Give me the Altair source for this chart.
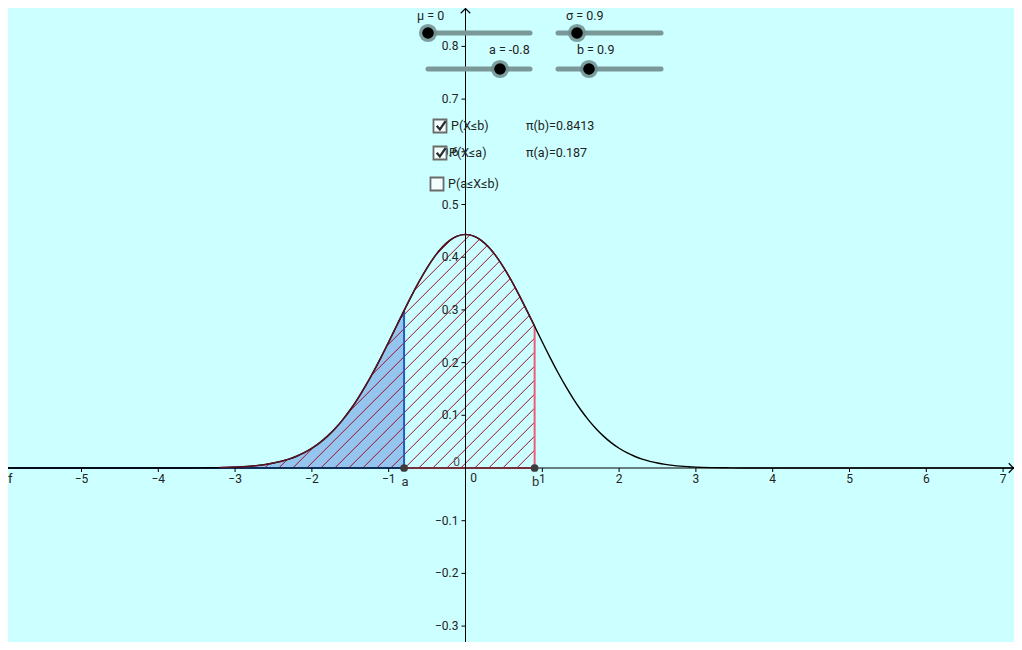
import altair as alt
import numpy as np
import pandas as pd

# ---- values ----
mu = 0
sigma = 0.9
a_val = -0.8
b_val = 0.9
prob_b = "0.8413"
prob_a = "0.187"

curve_x = [-6.0, -4.0, -3.6, -3.4, -3.2,
           -3.0, -2.9, -2.8, -2.7, -2.6, -2.5, -2.4, -2.3, -2.2, -2.1,
           -2.0, -1.9, -1.8, -1.7, -1.6, -1.5, -1.4, -1.3, -1.2, -1.1,
           -1.0, -0.9, -0.8, -0.7, -0.6, -0.5, -0.4, -0.3, -0.2, -0.1,
           0.0,
           0.1, 0.2, 0.3, 0.4, 0.5, 0.6, 0.7, 0.8, 0.9, 1.0,
           1.1, 1.2, 1.3, 1.4, 1.5, 1.6, 1.7, 1.8, 1.9, 2.0,
           2.1, 2.2, 2.3, 2.4, 2.5, 2.6, 2.7, 2.8, 2.9, 3.0,
           3.2, 3.4, 3.6, 4.0, 7.2]
curve_y = [0.0, 0.0, 0.0001, 0.0004, 0.0008,
           0.0017, 0.0025, 0.0035, 0.0049, 0.0068, 0.0094, 0.0127, 0.0169, 0.0223, 0.0291,
           0.0375, 0.0477, 0.0600, 0.0745, 0.0913, 0.1105, 0.1322, 0.1562, 0.1822, 0.2100,
           0.2391, 0.2689, 0.2986, 0.3276, 0.3549, 0.3799, 0.4016, 0.4193, 0.4325, 0.4405,
           0.4433,
           0.4405, 0.4325, 0.4193, 0.4016, 0.3799, 0.3549, 0.3276, 0.2986, 0.2689, 0.2391,
           0.2100, 0.1822, 0.1562, 0.1322, 0.1105, 0.0913, 0.0745, 0.0600, 0.0477, 0.0375,
           0.0291, 0.0223, 0.0169, 0.0127, 0.0094, 0.0068, 0.0049, 0.0035, 0.0025, 0.0017,
           0.0008, 0.0004, 0.0001, 0.0, 0.0]

x_ticks = [-5, -4, -3, -2, -1, 1, 2, 3, 4, 5, 6, 7]
x_tick_labels = ["\u22125", "\u22124", "\u22123", "\u22122", "\u22121", "1", "2", "3", "4", "5", "6", "7"]
y_ticks = [-0.3, -0.2, -0.1, 0.1, 0.2, 0.3, 0.4, 0.5, 0.6, 0.7, 0.8]
y_tick_labels = ["\u22120.3", "\u22120.2", "\u22120.1", "0.1", "0.2", "0.3", "0.4", "0.5", "0.6", "0.7", "0.8"]

# ---- view geometry ----
W, H = 1006, 634
PX_X = 76.8     # pixels per x unit
PX_Y = 527.0    # pixels per y unit
XMIN = (8 - 465.5) / PX_X
XMAX = XMIN + W / PX_X
YMAX = (468 - 8) / PX_Y
YMIN = YMAX - H / PX_Y

xs = alt.Scale(domain=[XMIN, XMAX], nice=False, zero=False)
ys = alt.Scale(domain=[YMIN, YMAX], nice=False, zero=False)
FONT = "Roboto"

curve = pd.DataFrame({"x": curve_x, "y": curve_y})

def X(f="x"):
    return alt.X(f"{f}:Q", scale=xs, axis=None)

def Y(f="y"):
    return alt.Y(f"{f}:Q", scale=ys, axis=None)

# blue area P(X<=a)
blue_area = alt.Chart(curve).transform_filter(alt.datum.x <= a_val).mark_area(
    color="#93c5ee", opacity=1, clip=True
).encode(x=X(), y=Y(), y2=alt.datum(0))

# hatching of P(X<=b): 45 degree lines clipped to the region under the curve
k = PX_X / PX_Y
spacing = 14 / PX_X
grid = np.linspace(XMIN, b_val, 9000)
fg = np.interp(grid, curve_x, curve_y)
segs = []
for c in np.arange(b_val - 0.05, XMIN - 0.5, -spacing):
    ly = k * (grid - c)
    inside = (grid >= c) & (ly <= fg)
    d = np.diff(np.concatenate(([0], inside.astype(int), [0])))
    starts = np.flatnonzero(d == 1)
    ends = np.flatnonzero(d == -1) - 1
    for s, e in zip(starts, ends):
        if e - s < 3:
            continue
        segs.append({"x": grid[s], "y": ly[s], "x2": grid[e], "y2": ly[e]})
hatch_df = pd.DataFrame(segs)
hatch = alt.Chart(hatch_df).mark_rule(color="#9e0f2c", strokeWidth=1, opacity=1).encode(
    x=X(), y=Y(), x2="x2:Q", y2="y2:Q"
)

fa = curve_y[curve_x.index(a_val)]
fb = curve_y[curve_x.index(b_val)]
edges = pd.DataFrame({
    "x": [XMIN, a_val, a_val, b_val],
    "x2": [a_val, b_val, a_val, b_val],
    "y": [0, 0, 0, 0],
    "y2": [0, 0, fa, fb],
    "kind": ["blue", "red", "blue", "red"],
})
edge_rules = alt.Chart(edges).mark_rule(strokeWidth=2).encode(
    x=X(), y=Y(), x2="x2:Q", y2="y2:Q",
    color=alt.Color("kind:N", scale=alt.Scale(domain=["blue", "red"], range=["#1f5fb8", "#ef5d78"]), legend=None),
)

# axes
axes_df = pd.DataFrame({"x": [XMIN, 0], "x2": [XMAX, 0], "y": [0, YMIN], "y2": [0, YMAX]})
axes = alt.Chart(axes_df).mark_rule(color="black", strokeWidth=1).encode(
    x=X(), y=Y(), x2="x2:Q", y2="y2:Q"
)
arrow_df = pd.DataFrame({"x": [XMAX - 0.5 / PX_X], "y": [0]})
arrow_r = alt.Chart(arrow_df).mark_point(
    shape="M-1,-1L0,0L-1,1", filled=False, color="black", size=90, strokeWidth=1.2, opacity=1
).encode(x=X(), y=Y())
arrow_df2 = pd.DataFrame({"x": [0], "y": [YMAX - 0.5 / PX_Y]})
arrow_t = alt.Chart(arrow_df2).mark_point(
    shape="M-1,1L0,0L1,1", filled=False, color="black", size=90, strokeWidth=1.2, opacity=1
).encode(x=X(), y=Y())

xt = pd.DataFrame({"x": x_ticks, "label": x_tick_labels})
x_tick_marks = alt.Chart(xt).transform_calculate(y="0", y2=f"{-4 / PX_Y}").mark_rule(
    color="black", strokeWidth=1
).encode(x=X(), y=Y(), y2="y2:Q")
x_tick_text = alt.Chart(xt).transform_calculate(y="0").mark_text(
    font=FONT, fontSize=12, color="#222", baseline="middle", align="center", dy=11
).encode(x=X(), y=Y(), text="label:N")

yt = pd.DataFrame({"y": y_ticks, "label": y_tick_labels})
y_tick_marks = alt.Chart(yt).transform_calculate(x=f"{-4 / PX_X}", x2="0").mark_rule(
    color="black", strokeWidth=1
).encode(x=X(), x2="x2:Q", y=Y())
y_tick_text = alt.Chart(yt).transform_calculate(x="0").mark_text(
    font=FONT, fontSize=12, color="#222", baseline="middle", align="right", dx=-7
).encode(x=X(), y=Y(), text="label:N")

origin = pd.DataFrame({"x": [0, 0], "y": [0, 0], "label": ["0", "0"]})
origin_x = alt.Chart(origin.iloc[[1]]).mark_text(
    font=FONT, fontSize=12, color="#222", dx=8, dy=10
).encode(x=X(), y=Y(), text="label:N")
origin_y = alt.Chart(origin.iloc[[0]]).mark_text(
    font=FONT, fontSize=12, color="#555", dx=-9, dy=-6
).encode(x=X(), y=Y(), text="label:N")

# curve
curve_line = alt.Chart(curve).mark_line(color="black", strokeWidth=1.4, clip=True, interpolate="monotone").encode(
    x=X(), y=Y()
)
curve_dark = alt.Chart(curve).transform_filter(alt.datum.x <= b_val).transform_filter(alt.datum.x >= -3.2).mark_line(
    color="#5a1424", strokeWidth=1.5, clip=True, interpolate="monotone"
).encode(x=X(), y=Y())

f_label = alt.Chart(pd.DataFrame({"y": [0], "t": ["f"]})).mark_text(
    font=FONT, fontSize=13, color="#222", align="left", dy=11
).encode(x=alt.value(0), y=Y(), text="t:N")

pts = pd.DataFrame({"x": [a_val, b_val], "y": [0, 0], "lab": ["a", "b"]})
pt_marks = alt.Chart(pts).mark_point(filled=True, color="#3c3c3c", size=60, opacity=1).encode(x=X(), y=Y())
pt_text = alt.Chart(pts).mark_text(font=FONT, fontSize=13, color="#333", dy=14, dx=1).encode(
    x=X(), y=Y(), text="lab:N"
)

# ---- GeoGebra widgets (sliders, checkboxes, texts) ----
one = pd.DataFrame({"k": [0]})

def ui_rule(x, x2, y, color="#7a9898", width=5):
    return alt.Chart(one).mark_rule(color=color, strokeWidth=width, strokeCap="round").encode(
        x=alt.value(x), x2=alt.value(x2), y=alt.value(y))

def ui_point(x, y, **kw):
    return alt.Chart(one).mark_point(**kw).encode(x=alt.value(x), y=alt.value(y))

def ui_text(x, y, text, size=12.5, color="#222"):
    return alt.Chart(one).mark_text(text=text, font=FONT, fontSize=size, color=color,
                                    align="left", baseline="middle").encode(x=alt.value(x), y=alt.value(y))

def knob(x, y):
    return [
        ui_point(x, y, filled=True, color="#6f8e8e", size=330, opacity=0.85),
        ui_point(x, y, filled=True, color="#000000", size=135, opacity=1),
    ]

widgets = []
sliders = [
    (420, 522, 25, 420, f"\u03bc = {mu}", 409, 8),
    (550, 653, 25, 569, f"\u03c3 = {sigma}", 558, 8),
    (420, 522, 61, 492, f"a = {a_val}", 481, 42),
    (550, 653, 61, 581, f"b = {b_val}", 569, 42),
]
for x0, x1, y, kx, lab, lx, ly_ in sliders:
    widgets.append(ui_rule(x0, x1, y))
    widgets += knob(kx, y)
    widgets.append(ui_text(lx, ly_, lab))

boxes = [
    (432, 118, True, "P(X\u2264b)", 443),
    (432, 145, True, "P(X\u2264a)", 441),
    (429, 176, False, "P(a\u2264X\u2264b)", 440),
]
for bx, by, checked, lab, tx in boxes:
    widgets.append(ui_point(bx, by, shape="square", filled=True, color="#f2ffff", size=170, opacity=1,
                            stroke="#6a6a6a", strokeWidth=1.8))
    if checked:
        widgets.append(ui_point(bx + 1, by, shape="M-0.75,-0.05L-0.2,0.6L0.8,-0.85", filled=False,
                                color="#2a2a2a", size=130, strokeWidth=2.2, opacity=1))
    widgets.append(ui_text(tx, by, lab))

widgets.append(ui_text(518, 118, f"\u03c0(b)={prob_b}"))
widgets.append(ui_text(518, 145, f"\u03c0(a)={prob_a}"))

chart = alt.layer(
    blue_area, hatch, edge_rules, axes, arrow_r, arrow_t,
    x_tick_marks, y_tick_marks, x_tick_text, y_tick_text, origin_x, origin_y,
    curve_line, curve_dark, f_label, pt_marks, pt_text,
    *widgets,
).properties(
    width=W, height=H, background="#ccffff", padding=0, autosize="none"
).configure_view(stroke=None)

chart.save("out.html", embed_options={"renderer": "svg", "actions": False})
